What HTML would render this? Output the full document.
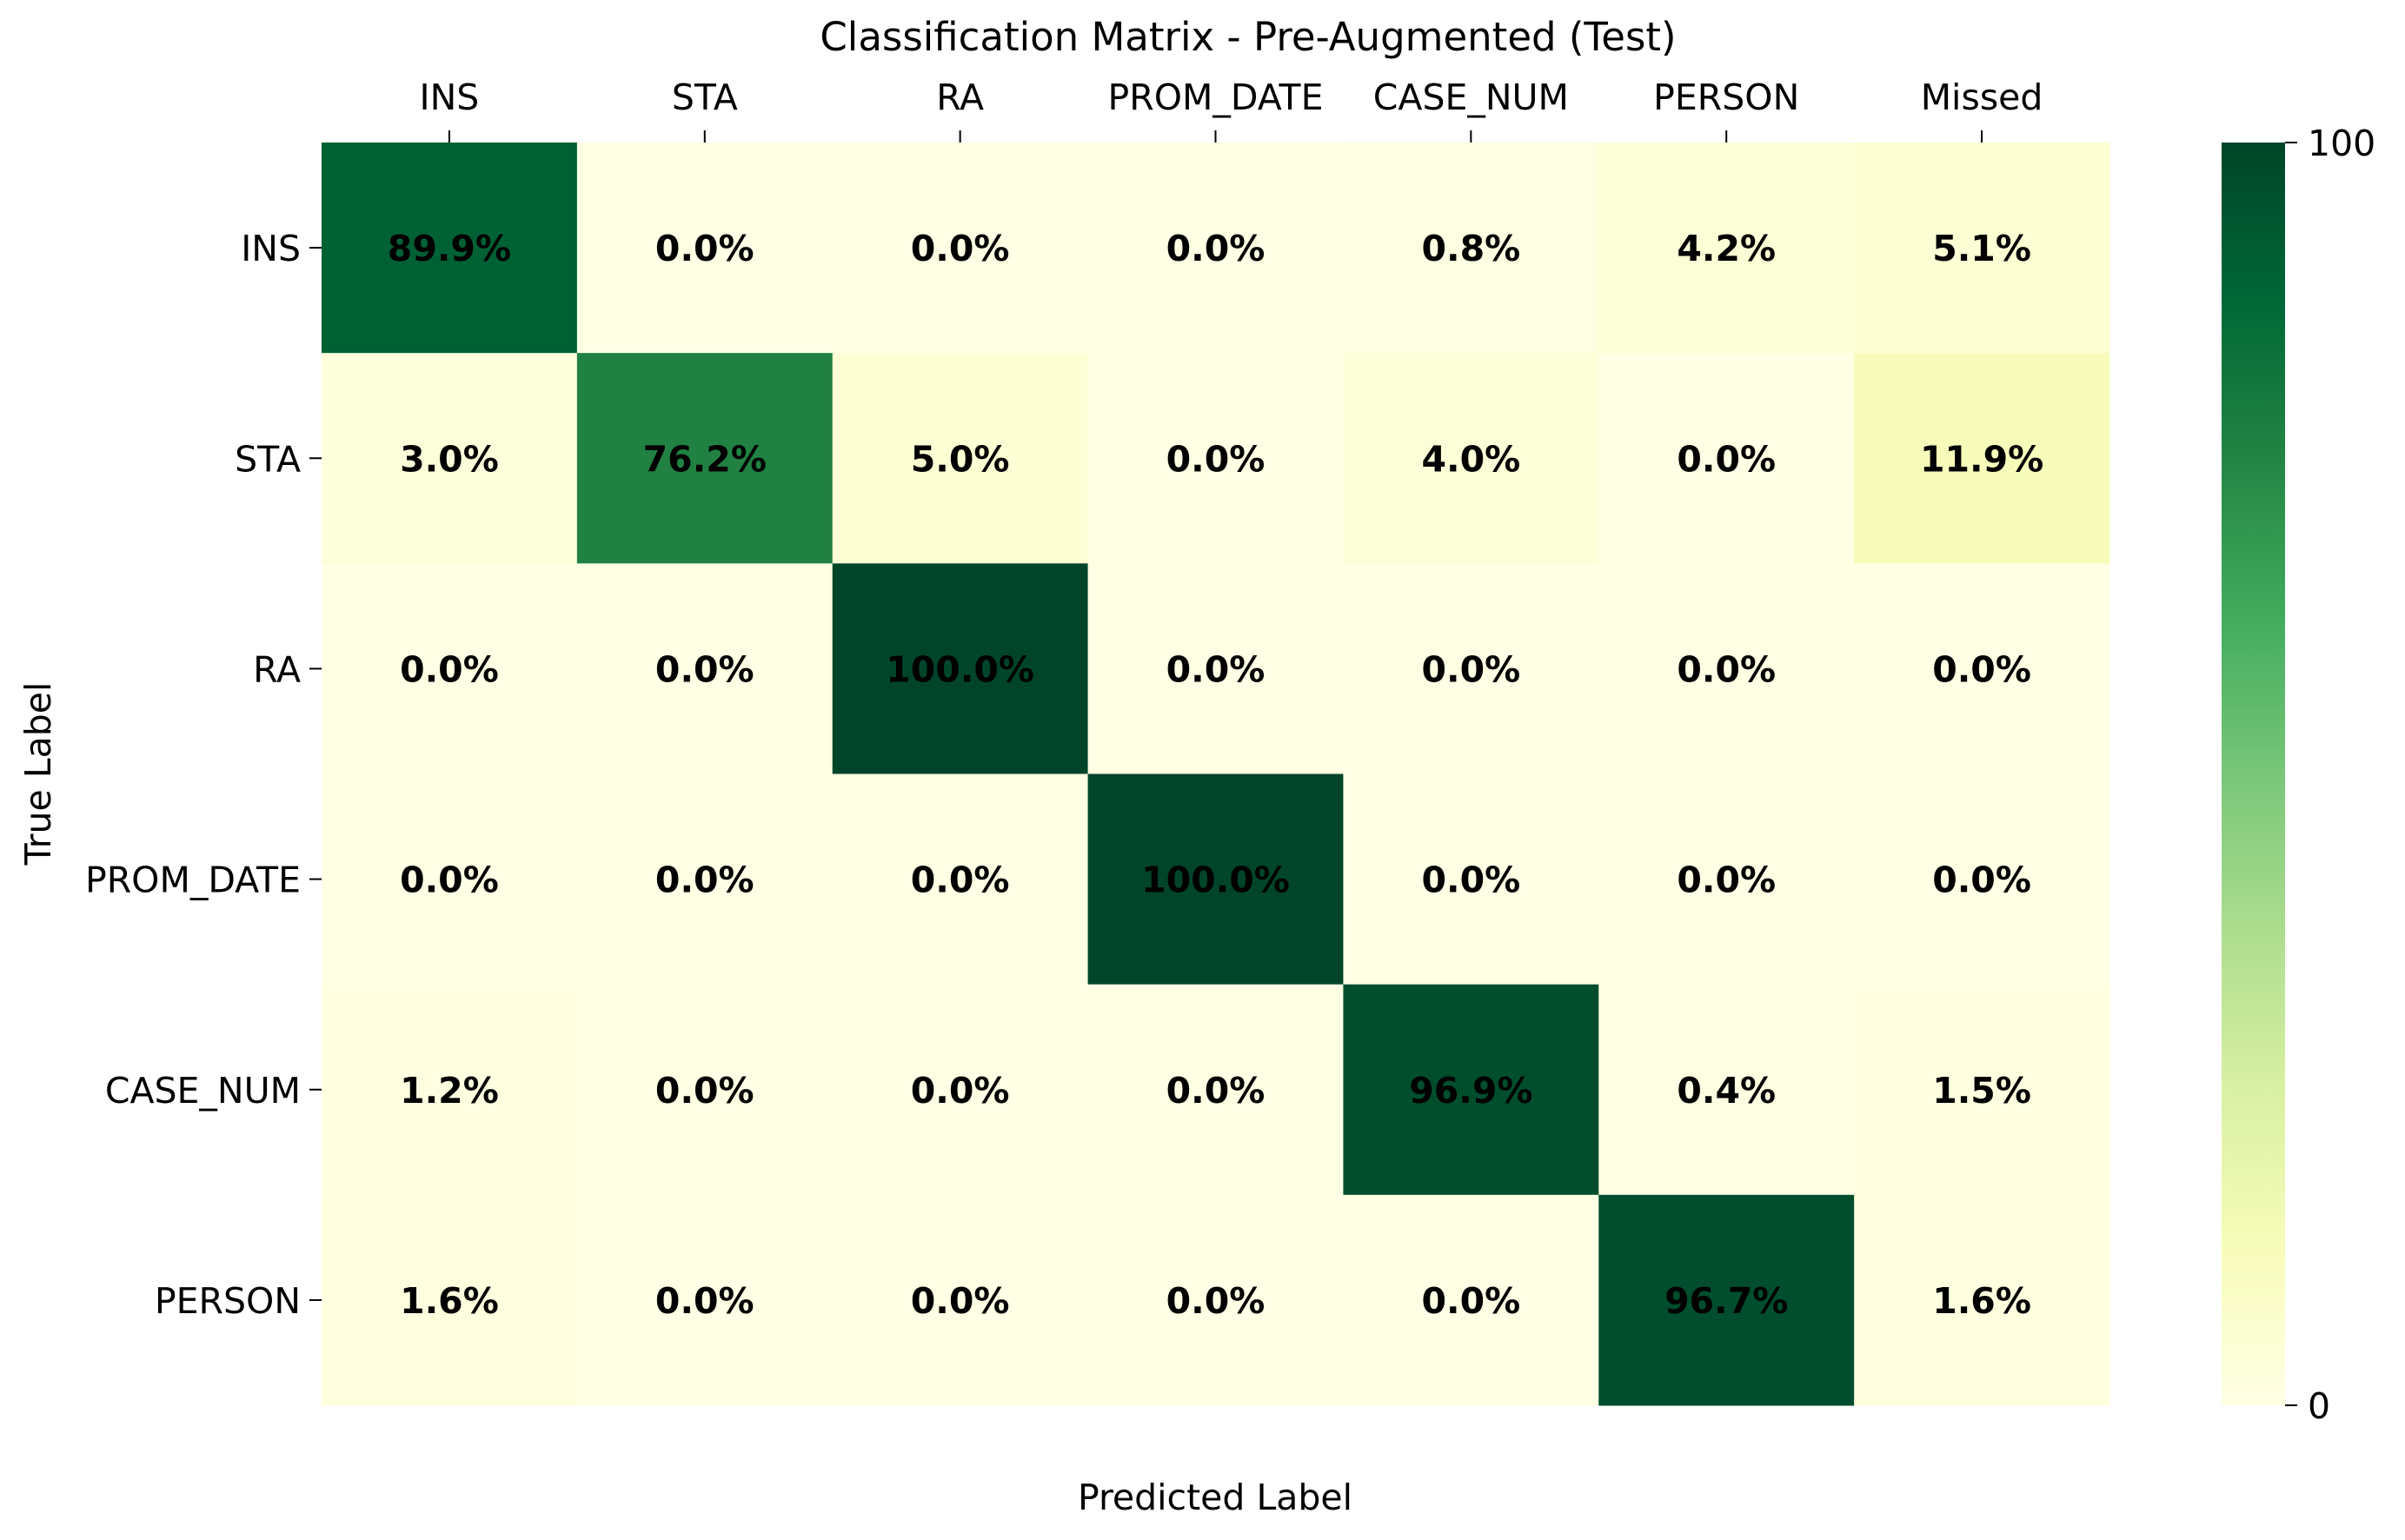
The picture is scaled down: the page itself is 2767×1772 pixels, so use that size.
<!DOCTYPE html>
<html><head><meta charset="utf-8"><style>
html,body{margin:0;padding:0;background:#fff;}
svg{display:block;font-family:"DejaVu Sans","Liberation Sans",sans-serif;}
</style></head><body>
<svg id="chart" xmlns="http://www.w3.org/2000/svg" width="2767" height="1772" viewBox="0 0 2767 1772">
<defs>
<linearGradient id="cbgrad" x1="0" y1="1" x2="0" y2="0">
<stop offset="0" stop-color="#ffffe5"/><stop offset="0.125" stop-color="#f7fcb9"/><stop offset="0.25" stop-color="#d9f0a3"/><stop offset="0.375" stop-color="#addd8e"/><stop offset="0.5" stop-color="#78c679"/><stop offset="0.625" stop-color="#41ab5d"/><stop offset="0.75" stop-color="#238443"/><stop offset="0.875" stop-color="#006837"/><stop offset="1" stop-color="#004529"/>
</linearGradient>
</defs>
<text x="1436" y="58" font-size="45" text-anchor="middle">Classification Matrix - Pre-Augmented (Test)</text>
<g id="cells"></g>
<g id="xt"></g>
<g id="yt"></g>
<text x="1398" y="1737" font-size="41" text-anchor="middle">Predicted Label</text>
<text x="0" y="0" font-size="41" text-anchor="middle" transform="translate(58,890) rotate(-90)">True Label</text>
<rect x="2556" y="164" width="73" height="1453" fill="url(#cbgrad)"/>
<g id="cb"></g>
</svg>
<script>
const categories = ["INS","STA","RA","PROM_DATE","CASE_NUM","PERSON","Missed"];
const rowLabels = ["INS","STA","RA","PROM_DATE","CASE_NUM","PERSON"];
const rowINS = [89.9,0.0,0.0,0.0,0.8,4.2,5.1];
const rowSTA = [3.0,76.2,5.0,0.0,4.0,0.0,11.9];
const rowRA = [0.0,0.0,100.0,0.0,0.0,0.0,0.0];
const rowPROM = [0.0,0.0,0.0,100.0,0.0,0.0,0.0];
const rowCASE = [1.2,0.0,0.0,0.0,96.9,0.4,1.5];
const rowPERSON = [1.6,0.0,0.0,0.0,0.0,96.7,1.6];
const colorbarTicks = [0,100];

const matrix = [rowINS,rowSTA,rowRA,rowPROM,rowCASE,rowPERSON];
const NS = "http://www.w3.org/2000/svg";
const L=370, T=164, W=2057, H=1453;
const cw = W/categories.length, ch = H/rowLabels.length;
const xPos = i => L + i*cw;
const yPos = j => T + j*ch;
const stops = ["#ffffe5","#f7fcb9","#d9f0a3","#addd8e","#78c679","#41ab5d","#238443","#006837","#004529"];
function hex(c){return [1,3,5].map(k=>parseInt(c.substr(k,2),16));}
function color(v){
  const t = Math.max(0,Math.min(1,v/100))*(stops.length-1);
  const i = Math.min(stops.length-2, Math.floor(t)), f = t-i;
  const a=hex(stops[i]), b=hex(stops[i+1]);
  return "rgb("+a.map((x,k)=>Math.round(x+(b[k]-x)*f)).join(",")+")";
}
function mk(tag, attrs, parent){const e=document.createElementNS(NS,tag);for(const k in attrs)e.setAttribute(k,attrs[k]);parent.appendChild(e);return e;}
const cells=document.getElementById("cells");
matrix.forEach((row,j)=>{
  row.forEach((v,i)=>{
    const r = mk("rect",{x:xPos(i),y:yPos(j),width:cw+0.5,height:ch+0.5,fill:color(v)},cells);
    
    
    const t = mk("text",{x:xPos(i)+cw/2,y:yPos(j)+ch/2+15,"font-size":41,"font-weight":"bold","text-anchor":"middle",fill:"#000"},cells);
    
    
    t.textContent = v.toFixed(1)+"%";
  });
});
const xt=document.getElementById("xt");
categories.forEach((c,i)=>{
  const x=xPos(i)+cw/2;
  const ln=mk("line",{x1:x,y1:T,x2:x,y2:T-14,stroke:"#000","stroke-width":2},xt);
  
  
  const t=mk("text",{x:x,y:126,"font-size":41,"text-anchor":"middle"},xt);
  
  
  t.textContent=c;
});
const yt=document.getElementById("yt");
rowLabels.forEach((c,j)=>{
  const y=yPos(j)+ch/2;
  const ln=mk("line",{x1:L,y1:y,x2:L-14,y2:y,stroke:"#000","stroke-width":2},yt);
  
  
  const t=mk("text",{x:L-24,y:y+15,"font-size":41,"text-anchor":"end"},yt);
  
  
  t.textContent=c;
});
const cb=document.getElementById("cb");
colorbarTicks.forEach(v=>{
  const y=164+1453*(1-v/100);
  const ln=mk("line",{x1:2629,y1:y,x2:2643,y2:y,stroke:"#000","stroke-width":2},cb);
  
  
  const t=mk("text",{x:2655,y:y+15,"font-size":41},cb);
  
  
  t.textContent=v;
});
</script>
</body></html>
